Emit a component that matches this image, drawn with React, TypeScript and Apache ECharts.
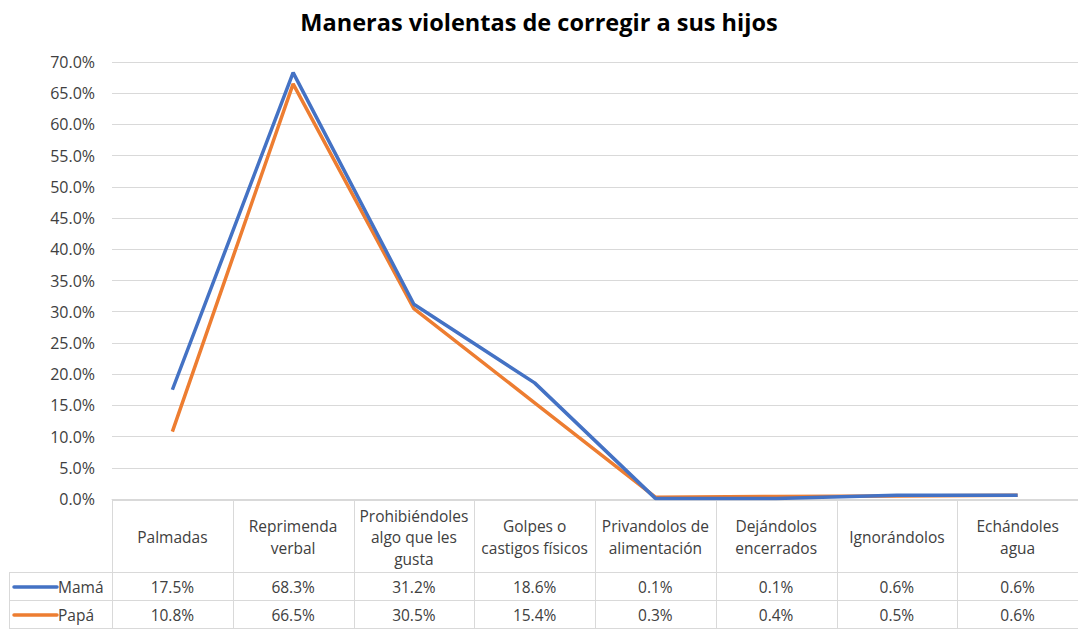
import React, { useEffect, useRef } from "react";
import * as echarts from "echarts";

const title = "Maneras violentas de corregir a sus hijos";
const categories = [
  "Palmadas",
  "Reprimenda\nverbal",
  "Prohibiéndoles\nalgo que les\ngusta",
  "Golpes o\ncastigos físicos",
  "Privandolos de\nalimentación",
  "Dejándolos\nencerrados",
  "Ignorándolos",
  "Echándoles\nagua",
];
const seriesNames = ["Mamá", "Papá"];
const mama = [17.5, 68.3, 31.2, 18.6, 0.1, 0.1, 0.6, 0.6];
const papa = [10.8, 66.5, 30.5, 15.4, 0.3, 0.4, 0.5, 0.6];
const colors = ["#4472C4", "#ED7D31"];
const yMin = 0;
const yMax = 70;
const yStep = 5;

const FONT = "'Open Sans', 'Noto Sans', sans-serif";

export default function App() {
  const ref = useRef<HTMLDivElement>(null);
  useEffect(() => {
    document.body.style.margin = "0";
    const el = ref.current!;
    const chart = echarts.init(el, null, { renderer: "svg" });
    const gridLeft = 112;
    const gridTop = 62;
    const gridBottomY = 499;
    chart.setOption({
      animation: false,
      backgroundColor: "#ffffff",
      title: {
        text: title,
        left: "center",
        top: 5,
        textStyle: { fontFamily: FONT, fontSize: 23.5, fontWeight: "bold", color: "#000000" },
      },
      grid: { left: gridLeft, right: 0, top: gridTop, bottom: 630 - gridBottomY, containLabel: false },
      xAxis: {
        type: "category",
        data: categories,
        boundaryGap: true,
        axisLine: { show: true, lineStyle: { color: "#d9d9d9", width: 1 } },
        axisTick: { show: false },
        axisLabel: { show: false },
        splitLine: { show: false },
      },
      yAxis: {
        type: "value",
        min: yMin,
        max: yMax,
        interval: yStep,
        axisLine: { show: false },
        axisTick: { show: false },
        axisLabel: {
          margin: 17,
          color: "#404040",
          fontFamily: FONT,
          fontSize: 16,
          formatter: (v: number) => v.toFixed(1) + "%",
        },
        splitLine: { lineStyle: { color: "#d9d9d9", width: 1 } },
      },
      series: [
        {
          name: seriesNames[0],
          type: "line",
          data: mama,
          symbol: "none",
          lineStyle: { color: colors[0], width: 3.5 },
          itemStyle: { color: colors[0] },
          z: 3,
        },
        {
          name: seriesNames[1],
          type: "line",
          data: papa,
          symbol: "none",
          lineStyle: { color: colors[1], width: 3.5 },
          itemStyle: { color: colors[1] },
          z: 2,
        },
      ],
    });

    // Build the data table using the axis scale positions
    const centers = categories.map((_, i) => chart.convertToPixel({ xAxisIndex: 0 }, i) as number);
    const catW = centers.length > 1 ? centers[1] - centers[0] : 120;
    const tableLeft = 9;
    const tableRight = 1078;
    const rowTop = 500;
    const headerBottom = 572;
    const row1Bottom = 600;
    const row2Bottom = 628;
    const lineColor = "#d9d9d9";
    const textColor = "#404040";
    const fs = 15.5;
    const g: any[] = [];
    const hline = (x1: number, x2: number, y: number) =>
      g.push({ type: "line", shape: { x1, y1: y, x2, y2: y }, style: { stroke: lineColor, lineWidth: 1 }, silent: true });
    const vline = (x: number, y1: number, y2: number) =>
      g.push({ type: "line", shape: { x1: x, y1, x2: x, y2 }, style: { stroke: lineColor, lineWidth: 1 }, silent: true });

    hline(gridLeft, tableRight, rowTop + 0.5);
    hline(tableLeft, tableRight, headerBottom + 0.5);
    hline(tableLeft, tableRight, row1Bottom + 0.5);
    hline(tableLeft, tableRight, row2Bottom + 0.5);
    vline(tableLeft + 0.5, headerBottom, row2Bottom);
    for (let i = 0; i < categories.length; i++) {
      vline(Math.round(centers[i] - catW / 2) + 0.5, rowTop, row2Bottom);
    }

    categories.forEach((c, i) => {
      g.push({
        type: "text",
        x: centers[i],
        y: (rowTop + headerBottom) / 2 + 1,
        silent: true,
        style: {
          text: c,
          fill: textColor,
          font: `${fs}px ${FONT}`,
          align: "center",
          verticalAlign: "middle",
          lineHeight: 21.5,
        },
      });
    });
    const rows = [mama, papa];
    const rowMid = [(headerBottom + row1Bottom) / 2 + 1, (row1Bottom + row2Bottom) / 2 + 1];
    rows.forEach((vals, r) => {
      g.push({
        type: "line",
        shape: { x1: 14, y1: rowMid[r], x2: 57, y2: rowMid[r] },
        style: { stroke: colors[r], lineWidth: 3.5, lineCap: "round" },
        silent: true,
      });
      g.push({
        type: "text",
        x: 58,
        y: rowMid[r],
        silent: true,
        style: { text: seriesNames[r], fill: textColor, font: `${fs}px ${FONT}`, align: "left", verticalAlign: "middle" },
      });
      vals.forEach((v, i) => {
        g.push({
          type: "text",
          x: centers[i],
          y: rowMid[r],
          silent: true,
          style: { text: v.toFixed(1) + "%", fill: textColor, font: `${fs}px ${FONT}`, align: "center", verticalAlign: "middle" },
        });
      });
    });
    chart.setOption({ graphic: g });
    return () => chart.dispose();
  }, []);
  return <div ref={ref} style={{ width: 1078, height: 630 }} />;
}
